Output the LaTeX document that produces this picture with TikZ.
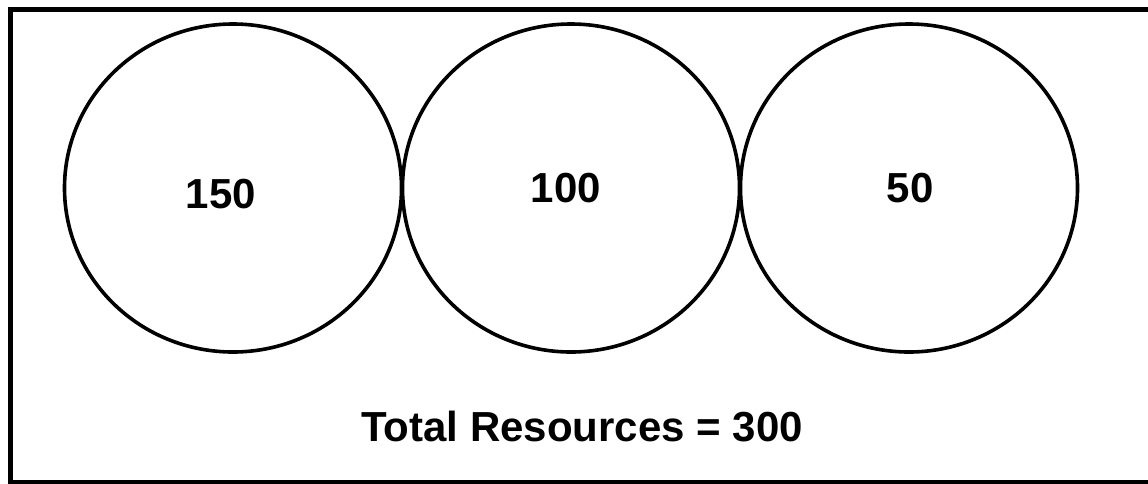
\documentclass[tikz,border=0pt]{standalone}
\usepackage{fontspec}
\setmainfont{Liberation Sans}
\usetikzlibrary{shapes.geometric}
\begin{document}
\begin{tikzpicture}[x=1pt, y=-1pt,
  pool/.style={draw=black, line width=3.6pt, ellipse, inner sep=0pt,
               minimum width=337pt, minimum height=328pt},
  amount/.style={inner sep=0pt, font=\fontsize{42}{48}\selectfont\bfseries},
  frameline/.style={draw=black, line width=4.6pt}
]
  \useasboundingbox (0,0) rectangle (1148,483);
  % outer frame (runs past the right and lower edges)
  \draw[frameline] (10.5,9.5) -- (1160,9.5);
  \draw[frameline] (10.5,7.2) -- (10.5,482);
  \draw[frameline] (8.2,482) -- (1160,482);

  % resource pools
  \node[pool] (p1) at (233,188) {};
  \node[pool] (p2) at (571,188) {};
  \node[pool] (p3) at (909,188) {};

  % pool sizes
  \node[amount] (a1) at (221,194) {150};
  \node[amount] (a2) at (566,188) {100};
  \node[amount] (a3) at (910,188) {50};

  % total
  \node[amount] (total) at (582,427) {Total Resources = 300};
\end{tikzpicture}
\end{document}
